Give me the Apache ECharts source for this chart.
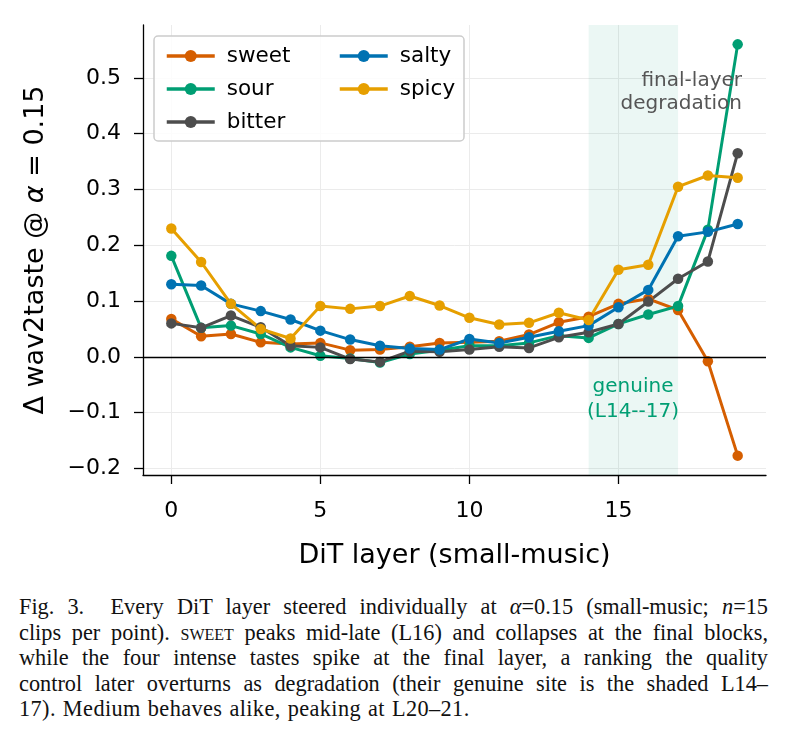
<!DOCTYPE html>
<html lang="en">
<head>
<meta charset="UTF-8">
<title>wav2taste per layer</title>
<script src="https://cdn.jsdelivr.net/npm/echarts@6.0.0/dist/echarts.min.js"></script>
<style>
  body { margin: 0; background: #fff; }
  #chart { width: 787px; height: 585px; }
  #caption {
    position: absolute; left: 19px; top: 594px; width: 749px;
    font-family: "Liberation Serif", serif; font-size: 22.3px; line-height: 25.5px;
    color: #111; word-spacing: -1.5px;
  }
  #caption div { text-align: justify; text-align-last: justify; white-space: nowrap; }
  #caption div.last { text-align-last: left; word-spacing: 1px; letter-spacing: 0.4px; }
  .sc { font-variant: small-caps; }
</style>
</head>
<body>
<div id="chart"></div>
<div id="caption">
  <div>Fig. 3.&nbsp; Every DiT layer steered individually at <i>α</i>=0.15 (small-music; <i>n</i>=15</div>
  <div>clips per point). <span class="sc">sweet</span> peaks mid-late (L16) and collapses at the final blocks,</div>
  <div>while the four intense tastes spike at the final layer, a ranking the quality</div>
  <div>control later overturns as degradation (their genuine site is the shaded L14–</div>
  <div class="last">17). Medium behaves alike, peaking at L20–21.</div>
</div>
<script>
// layers 0..19
let layers = [0,1,2,3,4,5,6,7,8,9,10,11,12,13,14,15,16,17,18,19];
let sweet  = [0.068,0.037,0.041,0.026,0.023,0.025,0.012,0.013,0.018,0.025,0.026,0.028,0.040,0.062,0.072,0.095,0.104,0.084,-0.008,-0.177];
let sour   = [0.181,0.052,0.056,0.041,0.017,0.002,-0.003,-0.010,0.005,0.012,0.020,0.020,0.025,0.038,0.034,0.059,0.076,0.091,0.228,0.560];
let bitter = [0.060,0.052,0.074,0.053,0.020,0.017,-0.004,-0.009,0.010,0.009,0.013,0.018,0.016,0.035,0.044,0.059,0.099,0.140,0.171,0.365];
let salty  = [0.130,0.128,0.095,0.082,0.067,0.047,0.031,0.020,0.015,0.013,0.032,0.025,0.035,0.046,0.056,0.089,0.120,0.216,0.224,0.238];
let spicy  = [0.230,0.170,0.095,0.050,0.033,0.091,0.086,0.091,0.109,0.092,0.070,0.058,0.061,0.079,0.066,0.156,0.165,0.305,0.325,0.321];
let xTicks = [0,5,10,15];
let yTicks = [-0.2,-0.1,0,0.1,0.2,0.3,0.4,0.5];

let colors = { sweet:'#D55E00', sour:'#009E73', bitter:'#4D4D4D', salty:'#0072B2', spicy:'#E69F00' };
let font = 'DejaVu Sans';

function mkSeries(name, vals) {
    return {
        name: name, type: 'line',
        data: layers.map((l, i) => [l, vals[i]]),
        symbol: 'circle', symbolSize: 10.5,
        lineStyle: { width: 3, color: colors[name] },
        itemStyle: { color: colors[name] },
        animation: false, z: 3
    };
}

let chart = echarts.init(document.getElementById('chart'));
let series = [
    mkSeries('sweet', sweet),
    mkSeries('sour', sour),
    mkSeries('bitter', bitter),
    mkSeries('salty', salty),
    mkSeries('spicy', spicy)
];
// shaded genuine window + zero line
series[1].markArea = {
    silent: true,
    itemStyle: { color: 'rgba(0,158,115,0.08)' },
    data: [[{ xAxis: 14 }, { xAxis: 17 }]]
};
series[0].markLine = {
    silent: true, symbol: 'none', label: { show: false },
    lineStyle: { color: '#000', width: 1.3, type: 'solid' },
    data: [{ yAxis: 0 }]
};

let legendCommon = {
    orient: 'vertical', itemWidth: 48, itemHeight: 15, itemGap: 11, z: 10,
    lineStyle: { width: 3.5 },
    textStyle: { fontFamily: font, fontSize: 21.5, color: '#000', padding: [0, 0, 0, 7] }
};

let option = {
    backgroundColor: '#fff',
    animation: false,
    grid: { left: 143, right: 21, top: 25, bottom: 110 },
    legend: [
        Object.assign({ left: 160, top: 40, data: ['sweet','sour','bitter'] }, legendCommon),
        Object.assign({ left: 333, top: 40, data: ['salty','spicy'] }, legendCommon)
    ],
    xAxis: {
        type: 'value', min: -0.95, max: 19.95,
        name: 'DiT layer (small-music)', nameLocation: 'middle', nameGap: 67,
        nameTextStyle: { fontFamily: font, fontSize: 27, color: '#000' },
        axisLine: { onZero: false, lineStyle: { color: '#000', width: 1.3 } },
        axisTick: { customValues: xTicks, length: 9, lineStyle: { color: '#000', width: 1.3 } },
        axisLabel: { customValues: xTicks, margin: 25, fontFamily: font, fontSize: 22, color: '#000' },
        splitLine: { show: true, lineStyle: { color: '#ebebeb', width: 1 } }
    },
    yAxis: {
        type: 'value', min: -0.2117, max: 0.5947,
        name: '{n|Δ wav2taste @ }{i|α}{n| = 0.15}', nameLocation: 'middle', nameGap: 94,
        nameTextStyle: {
            fontFamily: font, fontSize: 27, color: '#000',
            rich: {
                n: { fontFamily: font, fontSize: 27, color: '#000' },
                i: { fontFamily: font, fontSize: 27, color: '#000', fontStyle: 'italic' }
            }
        },
        axisLine: { show: true, onZero: false, lineStyle: { color: '#000', width: 1.3 } },
        axisTick: { show: true, customValues: yTicks, length: 9, lineStyle: { color: '#000', width: 1.3 } },
        axisLabel: {
            customValues: yTicks, margin: 22, fontFamily: font, fontSize: 22, color: '#000',
            formatter: v => (v < 0 ? '\u2212' : '') + Math.abs(v).toFixed(1)
        },
        splitLine: { show: true, lineStyle: { color: '#ebebeb', width: 1 } }
    },
    graphic: [
        { type: 'rect', x: 154, y: 36, z: 8, shape: { width: 310, height: 105, r: 4 },
          style: { fill: 'rgba(255,255,255,0.85)', stroke: '#cccccc', lineWidth: 1.5 } },
        { type: 'text', x: 742, y: 69, z: 8,
          style: { text: 'final-layer\ndegradation', fill: '#555555', font: '20px "DejaVu Sans"',
                   align: 'right', verticalAlign: 'top', lineHeight: 23 } },
        { type: 'text', x: 633, y: 374, z: 8,
          style: { text: 'genuine\n(L14--17)', fill: '#009E73', font: '20px "DejaVu Sans"',
                   align: 'center', verticalAlign: 'top', lineHeight: 25 } }
    ],
    series: series
};
chart.setOption(option);
</script>
</body>
</html>
